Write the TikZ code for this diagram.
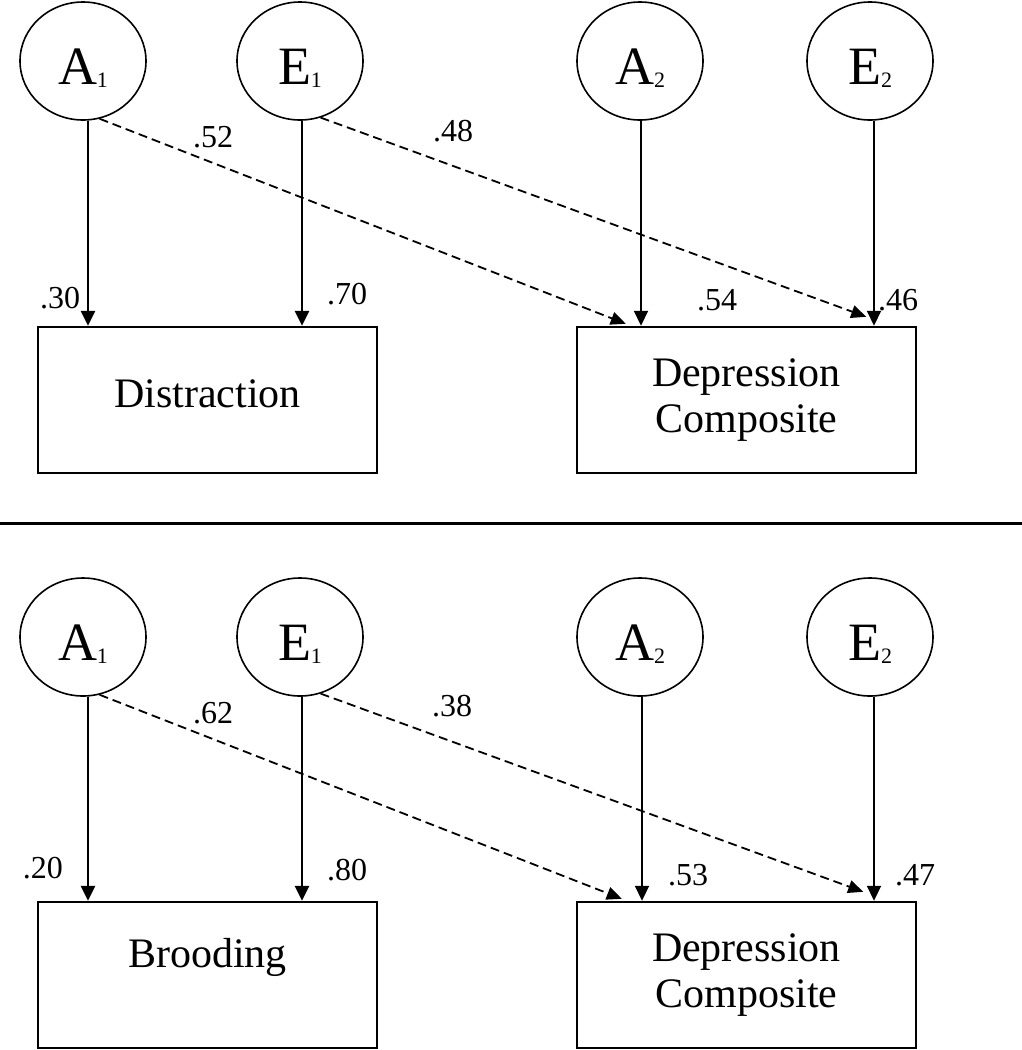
\documentclass[tikz,border=0pt]{standalone}
\usepackage{fontspec}
\setmainfont{Liberation Serif}
\usetikzlibrary{shapes.geometric,arrows.meta}

\tikzset{
  latent/.style={ellipse, draw, line width=1.6pt, minimum width=126pt, minimum height=118pt,
    inner sep=0pt, font=\fontsize{54}{54}\selectfont, text height=46pt, text depth=0pt},
  measure/.style={rectangle, draw, line width=2.4pt, minimum width=339pt, minimum height=146pt,
    inner sep=0pt, align=center, font=\fontsize{42}{46}\selectfont},
  coef/.style={inner sep=0pt, font=\fontsize{32}{32}\selectfont},
  heavyarrow/.style={line width=2.5pt, -{Triangle[length=15pt,width=14pt]}},
  lightarrow/.style={line width=1.7pt, -{Triangle[length=15pt,width=14pt]}},
  crossarrow/.style={line width=1.8pt, dash pattern=on 9pt off 5pt, -{Triangle[length=15pt,width=13pt]}},
}
\newcommand{\latname}[2]{#1{\fontsize{22}{22}\selectfont\raisebox{-3pt}{#2}}}

\begin{document}
\begin{tikzpicture}[x=1pt,y=-1pt]
  \useasboundingbox (0,0) rectangle (1022,1050);

  % Top panel: distraction
  \node[latent] (A1top) at (83,61) {\latname{A}{1}};
  \node[latent] (E1top) at (300,61) {\latname{E}{1}};
  \node[latent] (A2top) at (640,61) {\latname{A}{2}};
  \node[latent] (E2top) at (870,61) {\latname{E}{2}};
  \node[measure, text depth=12pt] (distr) at (207.5,400) {Distraction};
  \node[measure] (deptop) at (746.5,400) {Depression\\Composite};

  \draw[heavyarrow] ([xshift=5pt]A1top.south) -- ([xshift=5pt]A1top.south |- distr.north);
  \draw[heavyarrow] ([xshift=2pt]E1top.south) -- ([xshift=2pt]E1top.south |- distr.north);
  \draw[lightarrow] ([xshift=1pt]A2top.south) -- ([xshift=1pt]A2top.south |- deptop.north);
  \draw[lightarrow] ([xshift=4pt]E2top.south) -- ([xshift=4pt]E2top.south |- deptop.north);
  \draw[crossarrow] (A1top.-74) -- ([xshift=50pt,yshift=2pt]deptop.north west);
  \draw[crossarrow] (E1top.-70) -- ([xshift=-51pt,yshift=9pt]deptop.north east);

  \node[coef] (c52) at (213,137) {.52};
  \node[coef] (c48) at (453,131) {.48};
  \node[coef] (c30) at (60,298) {.30};
  \node[coef] (c70) at (347,294) {.70};
  \node[coef] (c54) at (717,300) {.54};
  \node[coef] (c46) at (898,300) {.46};

  % Divider
  \coordinate (ruleleft) at (0,523);
  \coordinate (ruleright) at (1022,523);
  \draw[line width=3pt] (ruleleft) -- (ruleright);

  % Bottom panel: brooding
  \node[latent] (A1bot) at (83,637) {\latname{A}{1}};
  \node[latent] (E1bot) at (300,637) {\latname{E}{1}};
  \node[latent] (A2bot) at (640,637) {\latname{A}{2}};
  \node[latent] (E2bot) at (870,637) {\latname{E}{2}};
  \node[measure, text height=28pt, text depth=44pt] (brood) at (207.5,975) {Brooding};
  \node[measure] (depbot) at (746.5,975) {Depression\\Composite};

  \draw[heavyarrow] ([xshift=5pt]A1bot.south) -- ([xshift=5pt]A1bot.south |- brood.north);
  \draw[heavyarrow] ([xshift=2pt]E1bot.south) -- ([xshift=2pt]E1bot.south |- brood.north);
  \draw[lightarrow] ([xshift=2pt]A2bot.south) -- ([xshift=2pt]A2bot.south |- depbot.north);
  \draw[lightarrow] ([xshift=4pt]E2bot.south) -- ([xshift=4pt]E2bot.south |- depbot.north);
  \draw[crossarrow] (A1bot.-74) -- ([xshift=46pt,yshift=2pt]depbot.north west);
  \draw[crossarrow] (E1bot.-70) -- ([xshift=-54pt,yshift=9pt]depbot.north east);

  \node[coef] (c62) at (213,713) {.62};
  \node[coef] (c38) at (452,706) {.38};
  \node[coef] (c20) at (43,868) {.20};
  \node[coef] (c80) at (347,870) {.80};
  \node[coef] (c53) at (688,875) {.53};
  \node[coef] (c47) at (915,875) {.47};
\end{tikzpicture}
\end{document}
